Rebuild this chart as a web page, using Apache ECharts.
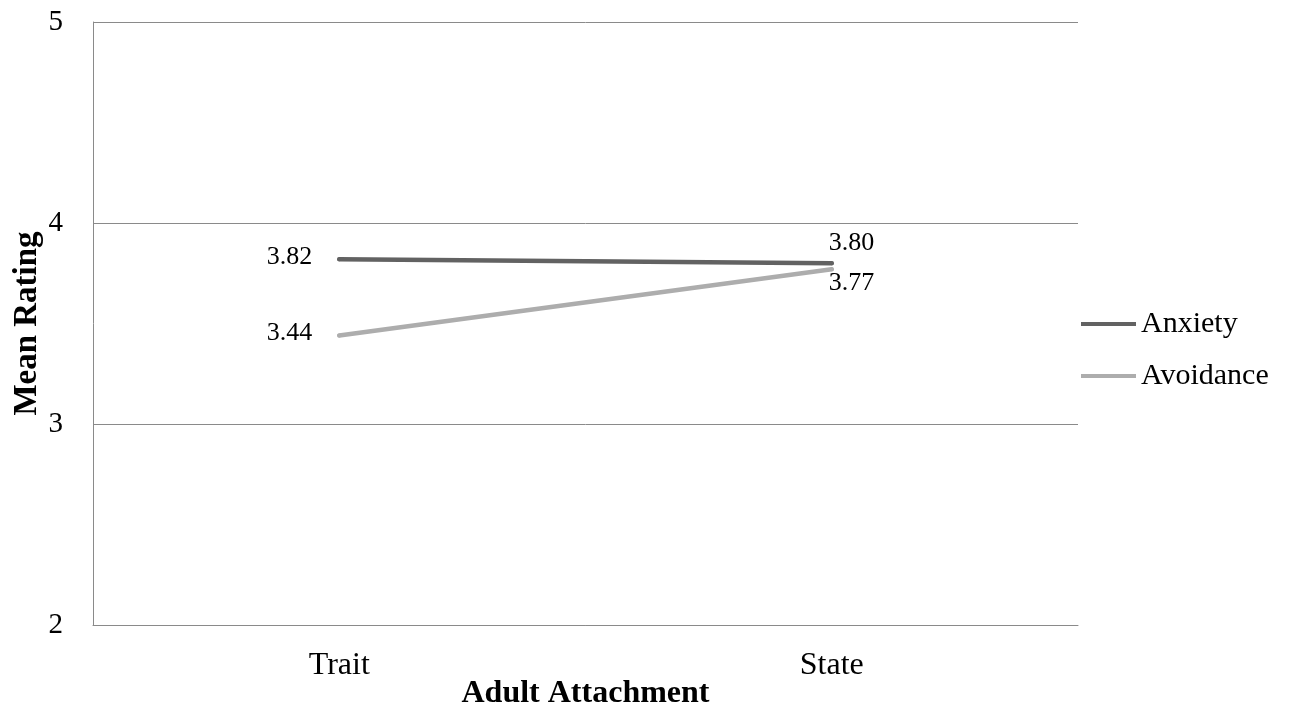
<!DOCTYPE html>
<html>
<head>
<meta charset="utf-8">
<title>Mean Rating by Adult Attachment</title>
<script src="https://cdn.jsdelivr.net/npm/echarts@6/dist/echarts.min.js"></script>
<style>
  html, body { margin: 0; padding: 0; background: #ffffff; }
  #chart { width: 1291px; height: 712px; }
</style>
</head>
<body>
<div id="chart"></div>
<script>
// Attachment measure (x categories)
const categories = ['Trait', 'State'];
// Mean ratings per attachment dimension
const anxiety = [3.82, 3.80];
const avoidance = [3.44, 3.77];
// Value axis ticks
const yTicks = [2, 3, 4, 5];

const FONT = '"Liberation Serif", "Times New Roman", serif';
const ANX_COLOR = '#626262';
const AVO_COLOR = '#adadad';

// Per-point label placement: Trait labels sit to the left of the point,
// State labels sit to the right, one above and one below.
function withLabels(values, stateOffsetY) {
  return values.map((v, i) => ({
    value: v,
    label: i === 0
      ? { position: 'left', distance: 25, offset: [0, -2] }
      : { position: 'right', distance: 0, offset: [-5, stateOffsetY] }
  }));
}

const chart = echarts.init(document.getElementById('chart'), null, { renderer: 'canvas' });

chart.setOption({
  animation: false,
  backgroundColor: '#ffffff',
  textStyle: { fontFamily: FONT },
  grid: {
    left: 93, right: 213, top: 22, bottom: 87,
    containLabel: false,
    outerBoundsMode: 'none'
  },
  legend: {
    orient: 'vertical',
    left: 1076,
    top: 304,
    itemWidth: 55,
    itemHeight: 4,
    itemGap: 22,
    icon: 'rect',
    selectedMode: false,
    textStyle: { fontFamily: FONT, fontSize: 30, color: '#000000' },
    data: ['Anxiety', 'Avoidance']
  },
  xAxis: {
    type: 'category',
    data: categories,
    boundaryGap: true,
    name: 'Adult Attachment',
    nameLocation: 'middle',
    nameGap: 53,
    nameMoveOverlap: false,
    nameTextStyle: { fontFamily: FONT, fontSize: 32, fontWeight: 'bold', color: '#000000' },
    axisLine: { show: true, lineStyle: { color: '#8a8a8a', width: 1 } },
    axisTick: { show: false },
    axisLabel: { fontFamily: FONT, fontSize: 32, color: '#000000', margin: 25 },
    splitLine: { show: false }
  },
  yAxis: {
    type: 'value',
    min: yTicks[0],
    max: yTicks[yTicks.length - 1],
    interval: 1,
    name: 'Mean Rating',
    nameLocation: 'middle',
    nameGap: 49,
    nameMoveOverlap: false,
    nameRotate: 90,
    nameTextStyle: { fontFamily: FONT, fontSize: 33, fontWeight: 'bold', color: '#000000' },
    axisLine: { show: true, lineStyle: { color: '#8a8a8a', width: 1 } },
    axisTick: { show: false },
    axisLabel: { fontFamily: FONT, fontSize: 29, color: '#000000', margin: 30 },
    splitLine: { show: true, lineStyle: { color: '#8a8a8a', width: 1 } }
  },
  series: [
    {
      name: 'Anxiety',
      type: 'line',
      data: withLabels(anxiety, -20),
      symbol: 'circle',
      symbolSize: 4,
      showSymbol: true,
      color: ANX_COLOR,
      itemStyle: { color: ANX_COLOR },
      lineStyle: { color: ANX_COLOR, width: 4.5, cap: 'round' },
      label: {
        show: true,
        fontFamily: FONT,
        fontSize: 26,
        color: '#000000',
        formatter: p => p.value.toFixed(2)
      },
      z: 3
    },
    {
      name: 'Avoidance',
      type: 'line',
      data: withLabels(avoidance, 14),
      symbol: 'circle',
      symbolSize: 4,
      showSymbol: true,
      color: AVO_COLOR,
      itemStyle: { color: AVO_COLOR },
      lineStyle: { color: AVO_COLOR, width: 4.5, cap: 'round' },
      label: {
        show: true,
        fontFamily: FONT,
        fontSize: 26,
        color: '#000000',
        formatter: p => p.value.toFixed(2)
      },
      z: 2
    }
  ]
});
</script>
</body>
</html>
